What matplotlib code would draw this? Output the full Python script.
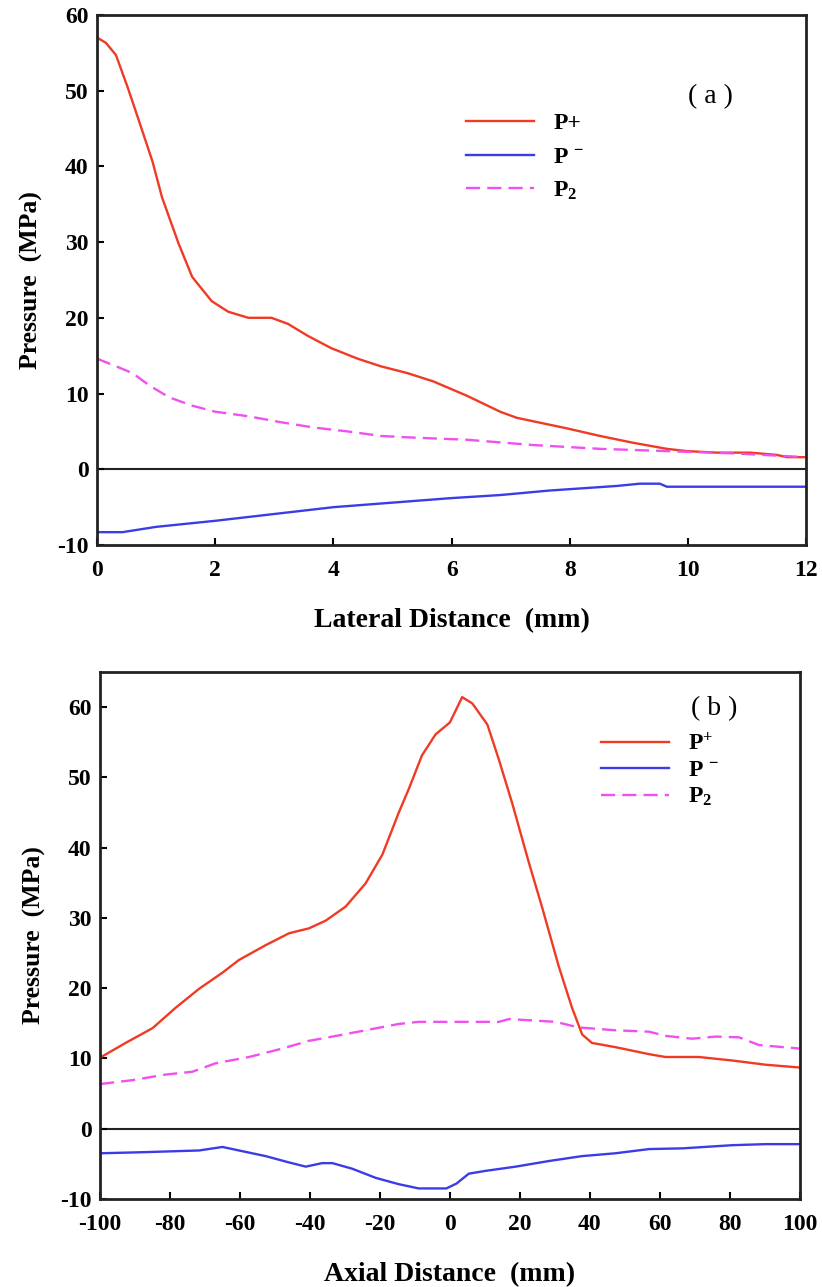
import numpy as np
from matplotlib import pyplot as plt

plt.rcParams['font.family'] = 'Liberation Serif'
plt.rcParams['font.weight'] = 'bold'
plt.rcParams['axes.unicode_minus'] = False
plt.rcParams['mathtext.fontset'] = 'custom'
plt.rcParams['mathtext.rm'] = 'Liberation Serif:bold'
plt.rcParams['mathtext.it'] = 'Liberation Serif:bold'
plt.rcParams['mathtext.bf'] = 'Liberation Serif:bold'

# panel (a): lateral distance
lat_x_pos = [0, 0.15, 0.32, 0.52, 0.71, 0.94, 1.10, 1.38, 1.61, 1.94, 2.22, 2.56, 2.95, 3.23, 3.57,
             3.96, 4.41, 4.80, 5.25, 5.69, 6.26, 6.82, 7.10, 7.95, 8.51, 9.07, 9.64, 9.98, 10.49,
             11.05, 11.50, 11.67, 12.0]
lat_p_pos = [57.0, 56.3, 54.7, 50.4, 46.0, 40.6, 35.9, 29.8, 25.4, 22.2, 20.8, 20.0, 20.0, 19.2, 17.6,
             16.0, 14.6, 13.6, 12.7, 11.6, 9.7, 7.6, 6.8, 5.4, 4.4, 3.5, 2.7, 2.4, 2.2,
             2.2, 1.9, 1.6, 1.6]

lat_x_neg = [0, 0.43, 1.0, 2.0, 3.0, 4.0, 5.0, 6.0, 6.82, 7.66, 8.23, 8.79, 9.18, 9.52, 9.64, 12.0]
lat_p_neg = [-8.3, -8.3, -7.6, -6.8, -5.9, -5.0, -4.4, -3.8, -3.4, -2.8, -2.5, -2.2, -1.9, -1.9, -2.3, -2.3]

lat_x_p2 = [0, 0.26, 0.6, 0.88, 1.22, 1.61, 2.0, 2.56, 3.12, 3.68, 4.24, 4.80, 5.31, 6.26, 7.38,
            8.51, 9.64, 10.77, 12.0]
lat_p_p2 = [14.6, 13.8, 12.7, 11.1, 9.5, 8.4, 7.6, 7.0, 6.2, 5.5, 5.0, 4.4, 4.2, 3.9, 3.2,
            2.7, 2.4, 2.1, 1.6]

# panel (b): axial distance
ax_x_pos = [-100, -92.7, -85.0, -78.4, -71.7, -65.0, -60.3, -52.7, -46.0, -40.3, -35.5, -29.8, -24.1,
            -19.3, -14.6, -11.7, -8.0, -4.1, 0, 3.5, 6.4, 10.7, 14.0, 17.8, 22.6, 26.4, 31.1, 34.9,
            37.8, 40.6, 47.3, 56.9, 61.6, 71.1, 80.7, 90.2, 100]
ax_p_pos = [10.1, 12.2, 14.3, 17.2, 19.9, 22.2, 24.0, 26.1, 27.8, 28.5, 29.6, 31.6, 34.9,
            39.0, 45.0, 48.4, 53.1, 56.1, 57.8, 61.4, 60.5, 57.5, 52.5, 46.3, 37.8, 31.4, 23.1, 17.2,
            13.4, 12.2, 11.6, 10.6, 10.2, 10.2, 9.7, 9.1, 8.7]

ax_x_neg = [-100, -88, -71.7, -65, -60.3, -52.7, -46, -41.2, -36.5, -33.6, -27.9, -21.2, -14.6, -8.9,
            -5.0, -1.0, 1.9, 5.4, 10.2, 18.8, 28.3, 37.8, 47.3, 56.9, 66.4, 75.9, 80.7, 90.2, 100]
ax_p_neg = [-3.5, -3.35, -3.1, -2.6, -3.1, -3.9, -4.8, -5.4, -4.9, -4.9, -5.7, -7.0, -7.9, -8.5,
            -8.5, -8.5, -7.8, -6.4, -6.0, -5.4, -4.6, -3.9, -3.5, -2.9, -2.8, -2.5, -2.35, -2.2, -2.2]

ax_x_p2 = [-100, -90.8, -81.2, -73.6, -67.0, -57.4, -47.9, -40.3, -33.6, -24.1, -14.6, -8.9, 0, 14.0,
           16.9, 30.2, 36.8, 47.3, 56.9, 61.6, 69.2, 75.9, 82.6, 88.3, 100]
ax_p_p2 = [6.35, 6.9, 7.7, 8.1, 9.3, 10.2, 11.4, 12.5, 13.1, 14.0, 14.9, 15.2, 15.2, 15.2,
           15.6, 15.2, 14.4, 14.0, 13.8, 13.2, 12.8, 13.1, 13.0, 11.9, 11.4]

red = '#f03a24'
blue = '#3c3ce6'
mag = '#f050f0'

fig = plt.figure(figsize=(8.22, 12.87), dpi=100)
a1 = fig.add_axes([0.118, 0.5765, 0.863, 0.412])
a2 = fig.add_axes([0.1217, 0.0684, 0.8513, 0.4096])

a1.plot(lat_x_pos, lat_p_pos, color=red, lw=1.7, label='P+')
a1.plot(lat_x_neg, lat_p_neg, color=blue, lw=1.7, label='P $^{-}$')
a1.plot(lat_x_p2, lat_p_p2, color=mag, lw=1.7, ls=(0, (6, 3)), label='P$_2$')
a1.set_xlim(0, 12)
a1.set_ylim(-10, 60)
a1.set_xticks([0, 2, 4, 6, 8, 10, 12])
a1.set_yticks([-10, 0, 10, 20, 30, 40, 50, 60])
a1.set_xlabel('Lateral Distance  (mm)', fontsize=20, fontweight='bold', labelpad=19)
a1.set_ylabel('Pressure  (MPa)', fontsize=18.5, fontweight='bold', labelpad=10)
a1.text(10.37, 49.2, '( a )', fontsize=20, fontweight='normal', ha='center', va='center')
a1.legend(loc='upper left', bbox_to_anchor=(0.49, 0.855), frameon=False, fontsize=17,
          handlelength=2.9, labelspacing=0.5, handletextpad=0.8)

a2.plot(ax_x_pos, ax_p_pos, color=red, lw=1.7, label='P$^{+}$')
a2.plot(ax_x_neg, ax_p_neg, color=blue, lw=1.7, label='P $^{-}$')
a2.plot(ax_x_p2, ax_p_p2, color=mag, lw=1.7, ls=(0, (6, 3)), label='P$_2$')
a2.set_xlim(-100, 100)
a2.set_ylim(-10, 65)
a2.set_xticks(np.arange(-100, 101, 20))
a2.set_yticks([-10, 0, 10, 20, 30, 40, 50, 60])
a2.set_xlabel('Axial Distance  (mm)', fontsize=20, fontweight='bold', labelpad=19)
a2.set_ylabel('Pressure  (MPa)', fontsize=18.5, fontweight='bold', labelpad=10)
a2.text(75.4, 59.8, '( b )', fontsize=20, fontweight='normal', ha='center', va='center')
a2.legend(loc='upper left', bbox_to_anchor=(0.685, 0.925), frameon=False, fontsize=17,
          handlelength=2.9, labelspacing=0.2, handletextpad=0.8)

for ax in (a1, a2):
    ax.axhline(0, color='#222222', lw=1.5, zorder=1)
    for s in ax.spines.values():
        s.set_linewidth(2)
        s.set_color('#222222')
    ax.tick_params(direction='in', length=5, width=1.5, labelsize=17, pad=6)
    ax.tick_params(axis='x', pad=11)
    for lb in ax.get_xticklabels() + ax.get_yticklabels():
        lb.set_fontweight('bold')

plt.savefig('out.png', dpi=100)
